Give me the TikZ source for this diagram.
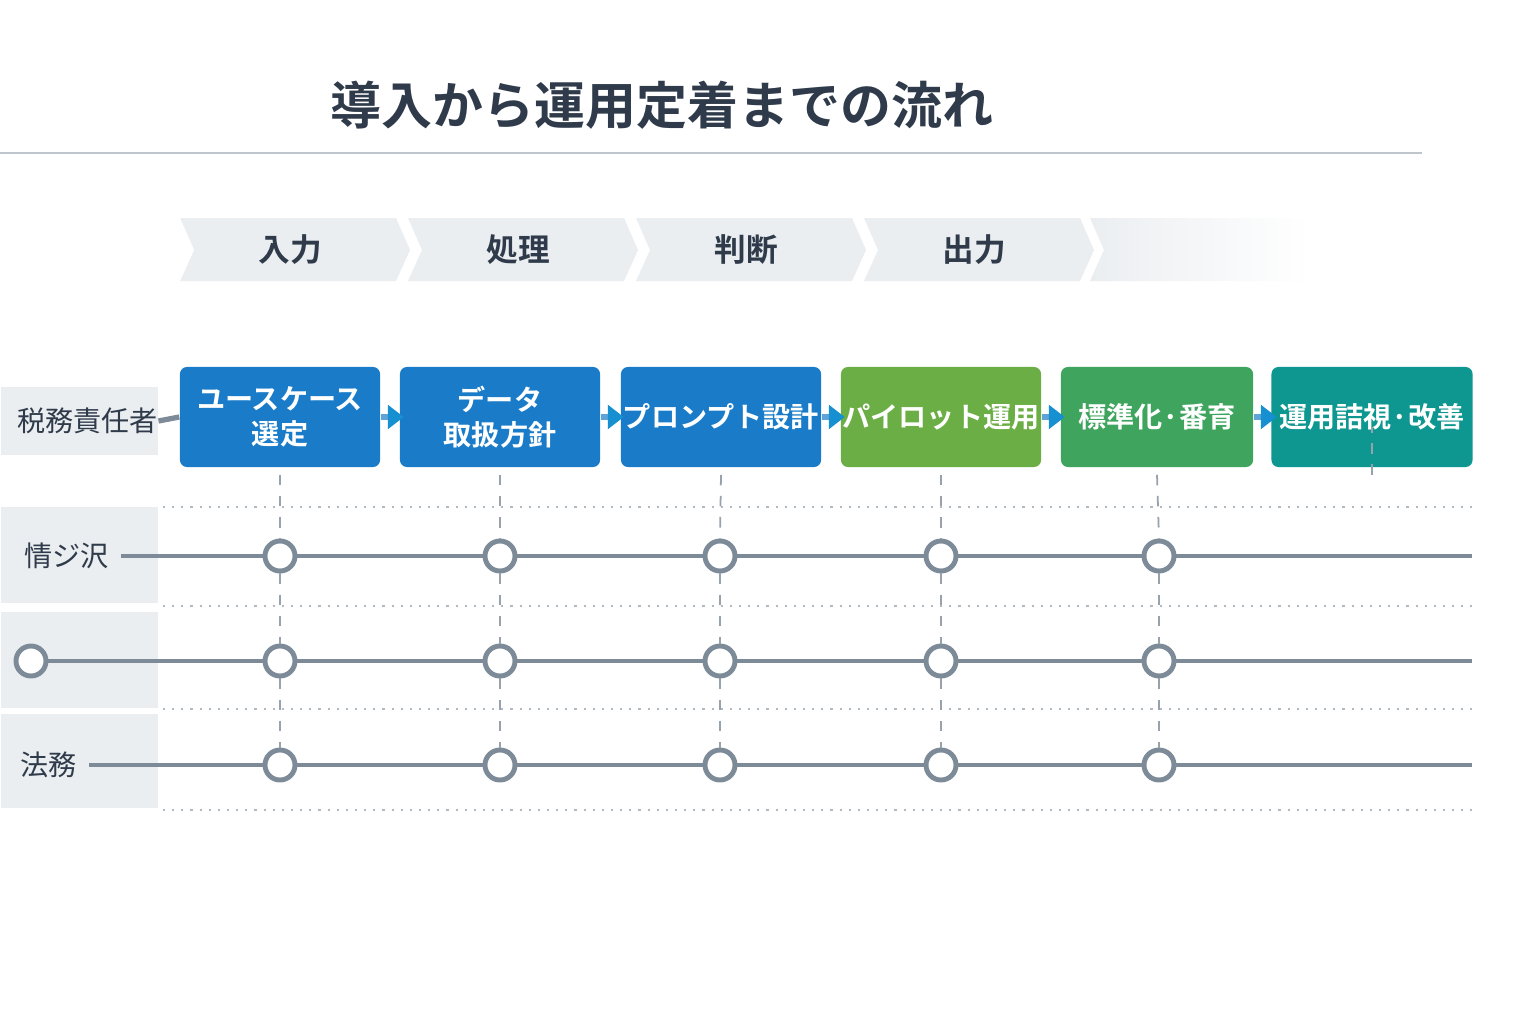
\documentclass[tikz,border=0pt]{standalone}
\usepackage{fontspec}
\setmainfont{Noto Sans CJK JP}
\newfontfamily\jpbold{Noto Sans CJK JP Bold}
\usetikzlibrary{positioning}
\definecolor{ink}{HTML}{2F3B4A}
\definecolor{lanegray}{HTML}{EBEEF1}
\definecolor{wire}{HTML}{7D8B99}
\definecolor{stepblue}{HTML}{1A7CC8}
\definecolor{steplime}{HTML}{6AAE45}
\definecolor{stepgreen}{HTML}{3FA55E}
\definecolor{stepteal}{HTML}{0E9690}
\tikzset{
    phase/.style={fill=lanegray, draw=none},
    stepbox/.style={rounded corners=2pt, minimum height=1cm, text=white, font=\jpbold\fontsize{8}{10}\selectfont, align=center, inner sep=0pt},
    lanebox/.style={fill=lanegray, minimum width=1.57cm, anchor=west, inner sep=0pt},
    lanetext/.style={font=\fontsize{8}{10}\selectfont, text=ink},
    mile/.style={circle, draw=wire, line width=1.4pt, fill=white, minimum size=0.3cm, inner sep=0pt},
    wireline/.style={draw=wire, line width=1pt},
    sep/.style={draw=wire!60, dotted, line width=0.6pt},
    guide/.style={draw=wire!80, dashed, line width=0.5pt},
    tip/.style={fill=stepblue!85!cyan}
}
\begin{document}
\begin{tikzpicture}[x=0.01cm,y=-0.01cm]
		\useasboundingbox[fill=white] (0,0) rectangle (1536,1024);
		% title
		\node[font=\jpbold\fontsize{14.5}{16}\selectfont, text=ink] (title) at (662,105) {導入から運用定着までの流れ};
		\draw[draw=wire!50, line width=0.8pt] (0,153) -- (1422,153);

		% phases
		\foreach \x/\t [count=\i] in {180/入力, 408/処理, 636/判断, 864/出力}{
			\fill[phase] (\x,218) -- (\x+216,218) -- (\x+230,250) -- (\x+216,281) -- (\x,281) -- (\x+14,250) -- cycle;
			\node[font=\jpbold\fontsize{9}{10}\selectfont, text=ink] (ph\i) at (\x+110,250) {\t};
		}
		\shade[left color=lanegray, right color=white] (1090,218) -- (1310,218) -- (1310,281) -- (1090,281) -- (1104,250) -- cycle;
		\fill[white] (180,218) -- (194,250) -- (180,281) -- cycle;

		% steps
		\node[stepbox, fill=stepblue, minimum width=2cm] (s1) at (280,417) {ユースケース\\選定};
		\node[stepbox, fill=stepblue, minimum width=2cm] (s2) at (500,417) {データ\\取扱方針};
		\node[stepbox, fill=stepblue, minimum width=2cm] (s3) at (721,417) {プロンプト設計};
		\node[stepbox, fill=steplime, minimum width=2cm] (s4) at (941,417) {パイロット運用};
		\node[stepbox, fill=stepgreen, minimum width=1.92cm] (s5) at (1157,417) {標準化·番育};
		\node[stepbox, fill=stepteal, minimum width=2.01cm] (s6) at (1372,417) {運用詰視·改善};
		\foreach \a/\b in {s1/s2, s2/s3, s3/s4, s4/s5, s5/s6}{
			\draw[draw=stepblue!70, line width=1.5pt] (\a.east) -- (\b.west);
			\fill[tip] ([xshift=2pt,yshift=3.5pt]\a.east) -- ([xshift=6.5pt]\a.east) -- ([xshift=2pt,yshift=-3.5pt]\a.east) -- cycle;
		}

		% lanes
		\node[lanebox, minimum height=0.67cm] (l0) at (0,421) {};
		\node[lanetext, anchor=west] at (5,421) {税務責任者};
		\draw[wireline, line width=1.5pt] (l0.east) -- (s1.west);
		\node[lanebox, minimum height=0.96cm] (l1) at (0,555) {};
		\node[lanebox, minimum height=0.95cm] (l2) at (0,660) {};
		\node[lanebox, minimum height=0.94cm] (l3) at (0,761) {};
		\node[lanetext, anchor=west] (t1) at (12,556) {情ジ沢};
		\node[mile] (t2) at (31,661) {};
		\node[lanetext, anchor=west] (t3) at (8,765) {法務};
		\foreach \y in {507,606,709,810}
			\draw[sep] (163,\y) -- (1472,\y);
		\coordinate (e1) at (1472,556);
		\coordinate (e2) at (1472,661);
		\coordinate (e3) at (1472,765);
		\foreach \r/\y in {1/556, 2/661, 3/765}{
			\draw[wireline] (t\r.east) -- (e\r);
			\foreach \x [count=\k] in {280,500,720,941,1159}
				\node[mile] (m\r\k) at (\x,\y) {};
		}
		% guides
		\foreach \k/\x in {1/280, 2/500, 3/720, 4/941, 5/1159}{
			\draw[guide] ([yshift=-2pt]s\k.south) -- (m1\k.north);
			\draw[guide] (m1\k.south) -- (m2\k.north);
			\draw[guide] (m2\k.south) -- (m3\k.north);
		}
		\draw[guide] ([yshift=-2pt]s6.south) -- ++(0,-48);
	\end{tikzpicture}
\end{document}
